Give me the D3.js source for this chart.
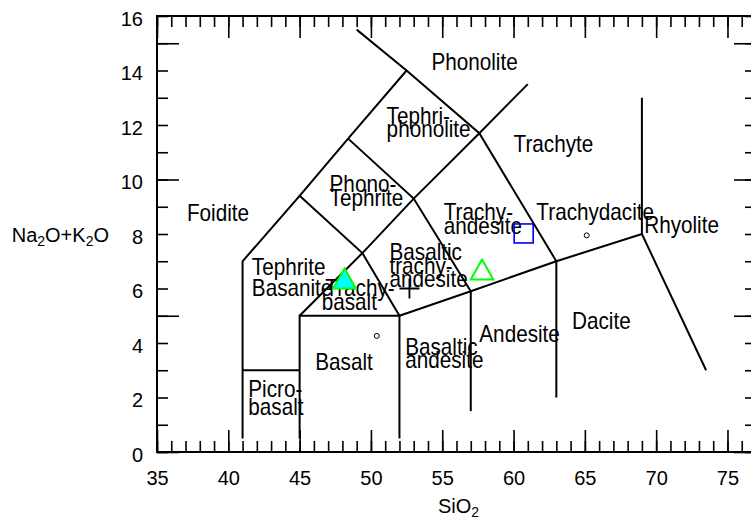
<!DOCTYPE html>
<html>
<head>
<meta charset="utf-8">
<script src="https://cdn.jsdelivr.net/npm/d3@7"></script>
<style>
  body { margin: 0; background: #fff; }
  svg { display: block; font-family: "Liberation Sans", Arial, sans-serif; }
</style>
</head>
<body>
<svg id="chart" width="751" height="525"></svg>
<script>
// TAS field boundaries, [SiO2, Na2O+K2O]
const boundaries = [
  [[41, 0.5], [41, 7], [45, 9.4], [48.4, 11.5], [52.5, 14]],
  [[49, 15.5], [52.5, 14], [57.6, 11.7], [63, 7]],
  [[41, 3], [45, 3]],
  [[45, 0.5], [45, 5], [52, 5], [52, 0.5]],
  [[45, 5], [49.4, 7.3], [53, 9.3], [57.6, 11.7], [61, 13.5]],
  [[45, 9.4], [49.4, 7.3], [52, 5]],
  [[48.4, 11.5], [53, 9.3], [57, 5.9]],
  [[52, 5], [57, 5.9], [63, 7], [69, 8]],
  [[57, 1.5], [57, 5.9]],
  [[63, 2], [63, 7]],
  [[69, 13], [69, 8], [73.5, 3]]
];

// field names: lines of text, anchor position in data units (left, baseline)
const fieldNames = [
  {lines: ['Phonolite'], at: [54.24, 14.02]},
  {lines: ['Tephri-', 'phonolite'], at: [51.1, 12.04]},
  {lines: ['Phono-', 'Tephrite'], at: [47.1, 9.54]},
  {lines: ['Foidite'], at: [37.1, 8.49]},
  {lines: ['Trachyte'], at: [60.0, 11.02]},
  {lines: ['Trachy-', 'andesite'], at: [55.1, 8.51]},
  {lines: ['Trachydacite'], at: [61.6, 8.51]},
  {lines: ['Rhyolite'], at: [69.16, 8.02]},
  {lines: ['Tephrite'], at: [41.65, 6.5]},
  {lines: ['Basanite'], at: [41.65, 5.74]},
  {lines: ['Trachy-'], at: [46.8, 5.74]},
  {lines: ['basalt'], at: [46.55, 5.2]},
  {lines: ['Basaltic', 'trachy-', 'andesite'], at: [51.3, 7.04]},
  {lines: ['Basalt'], at: [46.1, 3.0]},
  {lines: ['Picro-'], at: [41.4, 2.02]},
  {lines: ['basalt'], at: [41.4, 1.35]},
  {lines: ['Basaltic', 'andesite'], at: [52.4, 3.56]},
  {lines: ['Andesite'], at: [57.6, 4.05]},
  {lines: ['Dacite'], at: [64.1, 4.5]}
];

// samples
const filledTriangles = [[48.15, 6.37]];
const openTriangles = [[57.79, 6.7]];
const squares = [[60.71, 8.02]];
const circles = [[50.41, 4.26], [65.13, 7.95]];
const crosses = [[52.7, 6.0]];

const xTickLabels = [35, 40, 45, 50, 55, 60, 65, 70, 75];
const yTickLabels = [0, 2, 4, 6, 8, 10, 12, 14, 16];

const svg = d3.select('#chart');
const x = d3.scaleLinear().domain([35, 77]).range([157, 756]);
const y = d3.scaleLinear().domain([0, 16]).range([452, 16]);

// ticks pointing inward on all four sides
const minorX = d3.range(35, 78, 1);
const majorX = d3.range(35, 78, 5);
const minorY = d3.range(0, 17, 1);
const majorY = d3.range(0, 17, 5);

const tickG = svg.append('g').attr('class', 'ticks');
const addTicks = (axis, transform) => {
  tickG.append('g')
    .attr('transform', transform)
    .call(axis.tickFormat(''))
    .call(g => g.select('.domain').remove())
    .call(g => g.selectAll('line').attr('stroke', '#000').attr('stroke-width', 1.6));
};
addTicks(d3.axisBottom(x).tickValues(minorX).tickSize(-11), 'translate(0,452)');
addTicks(d3.axisBottom(x).tickValues(majorX).tickSize(-22), 'translate(0,452)');
addTicks(d3.axisTop(x).tickValues(minorX).tickSize(-11), 'translate(0,16)');
addTicks(d3.axisTop(x).tickValues(majorX).tickSize(-22), 'translate(0,16)');
addTicks(d3.axisLeft(y).tickValues(minorY).tickSize(-11), 'translate(157,0)');
addTicks(d3.axisLeft(y).tickValues(majorY).tickSize(-22), 'translate(157,0)');
addTicks(d3.axisRight(y).tickValues(minorY).tickSize(-11), 'translate(756,0)');
addTicks(d3.axisRight(y).tickValues(majorY).tickSize(-22), 'translate(756,0)');

// tick labels
svg.append('g')
  .attr('transform', 'translate(0,452)')
  .call(d3.axisBottom(x).tickValues(xTickLabels).tickSize(0).tickPadding(19).tickFormat(d3.format('d')))
  .call(g => g.select('.domain').remove())
  .call(g => g.selectAll('text').attr('font-size', 20).attr('fill', '#000')
    .attr('font-family', '"Liberation Sans", Arial, sans-serif'));

svg.append('g')
  .attr('transform', 'translate(157,0)')
  .call(d3.axisLeft(y).tickValues(yTickLabels).tickSize(0).tickPadding(14).tickFormat(d3.format('d')))
  .call(g => g.select('.domain').remove())
  .call(g => g.selectAll('text').attr('font-size', 20).attr('fill', '#000').attr('dy', '0.45em')
    .attr('font-family', '"Liberation Sans", Arial, sans-serif'));

// frame
svg.append('rect')
  .attr('x', x(35)).attr('y', y(16))
  .attr('width', x(77) - x(35)).attr('height', y(0) - y(16))
  .attr('fill', 'none').attr('stroke', '#000').attr('stroke-width', 2);

// axis titles
const yTitle = svg.append('text').attr('x', 11.7).attr('y', 242).attr('font-size', 20);
yTitle.append('tspan').text('Na');
yTitle.append('tspan').attr('font-size', 14).attr('dy', 4).text('2');
yTitle.append('tspan').attr('dy', -4).text('O+K');
yTitle.append('tspan').attr('font-size', 14).attr('dy', 4).text('2');
yTitle.append('tspan').attr('dy', -4).text('O');

const xTitle = svg.append('text').attr('x', 438).attr('y', 513).attr('font-size', 20);
xTitle.append('tspan').text('SiO');
xTitle.append('tspan').attr('font-size', 14).attr('dy', 4).text('2');

// field boundaries
const line = d3.line().x(d => x(d[0])).y(d => y(d[1]));
svg.append('g').selectAll('path').data(boundaries).join('path')
  .attr('d', line)
  .attr('fill', 'none').attr('stroke', '#000').attr('stroke-width', 2)
  .attr('stroke-linejoin', 'miter');

// field names
const lineGap = 13.5;
svg.append('g').selectAll('text').data(fieldNames).join('text')
  .attr('transform', d => `translate(${x(d.at[0])},${y(d.at[1])}) scale(0.9,1)`)
  .attr('font-size', 23)
  .attr('fill', '#000')
  .each(function(d) {
    d3.select(this).selectAll('tspan').data(d.lines).join('tspan')
      .attr('x', 0).attr('y', (t, i) => i * lineGap)
      .text(t => t);
  });

// samples
const tri = (cx, cy) => `M${cx},${cy - 10}L${cx + 11.3},${cy + 10}L${cx - 11.3},${cy + 10}Z`;
svg.append('g').selectAll('path').data(filledTriangles).join('path')
  .attr('d', d => tri(x(d[0]), y(d[1])))
  .attr('fill', '#00ffff').attr('stroke', '#00ff00').attr('stroke-width', 2);

svg.append('g').selectAll('path').data(openTriangles).join('path')
  .attr('d', d => tri(x(d[0]), y(d[1])))
  .attr('fill', 'none').attr('stroke', '#00ff00').attr('stroke-width', 2);

svg.append('g').selectAll('rect').data(squares).join('rect')
  .attr('x', d => x(d[0]) - 9.5).attr('y', d => y(d[1]) - 9.5)
  .attr('width', 19).attr('height', 19)
  .attr('fill', 'none').attr('stroke', '#0000ff').attr('stroke-width', 1.6);

svg.append('g').selectAll('circle').data(circles).join('circle')
  .attr('cx', d => x(d[0])).attr('cy', d => y(d[1])).attr('r', 2.5)
  .attr('fill', 'none').attr('stroke', '#000').attr('stroke-width', 1);

svg.append('g').selectAll('path').data(crosses).join('path')
  .attr('d', d => {
    const cx = x(d[0]), cy = y(d[1]);
    return `M${cx - 10},${cy}H${cx + 10}M${cx},${cy - 10}V${cy + 10}`;
  })
  .attr('fill', 'none').attr('stroke', '#000').attr('stroke-width', 1.8);
</script>
</body>
</html>
